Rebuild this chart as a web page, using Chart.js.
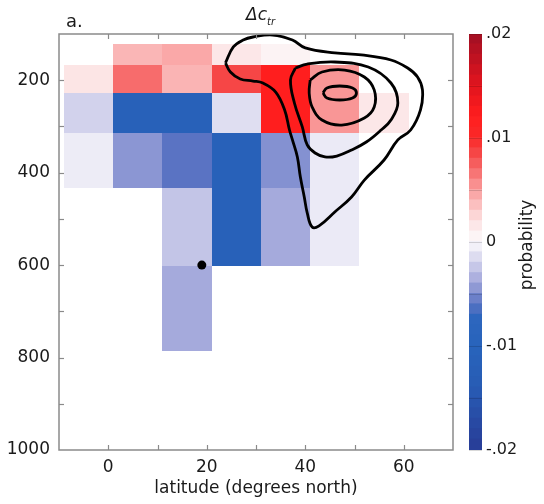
<!DOCTYPE html>
<html>
<head>
<meta charset="utf-8">
<script src="https://cdn.jsdelivr.net/npm/chart.js@4.4.1/dist/chart.umd.min.js"></script>
<style>
  html, body { margin: 0; padding: 0; background: #fff; }
  #wrap { position: relative; width: 544px; height: 504px; }
  #main { position: absolute; left: 0; top: 0; }
  #bar { position: absolute; left: 460px; top: 0; }
</style>
</head>
<body>
<div id="wrap">
  <canvas id="main" width="460" height="504"></canvas>
  <canvas id="bar" width="84" height="504"></canvas>
</div>
<script>
const FONT = "'DejaVu Sans', sans-serif";
const INK = "#1a1a1a";
const AXIS = "#8a8a8a";

/* grid cells: latitude and pressure edges, values row by row (top -> bottom) */
const latEdges = [-9, 1, 11, 21, 31, 41, 51, 61];
const presEdges = [122, 167, 228, 314, 433, 602, 786];
const cellRows = [
  [0, 0.0039, 0.0045, 0.0015, 0.0006, 0, 0],
  [0.0017, 0.0069, 0.004, 0.0085, 0.012, 0.0052, 0],
  [-0.002, -0.0115, -0.0115, -0.0014, 0.012, 0.0052, 0.0015],
  [-0.0007, -0.0046, -0.006, -0.0115, -0.0048, -0.0008, 0],
  [0, 0, -0.0026, -0.0115, -0.0038, -0.0008, 0],
  [0, 0, -0.0038, 0, 0, 0, 0]
];

/* contours as [lat, pressure] */
const contour1 = [[23.8,162.7],[25.4,128],[27.4,113],[29.4,106.5],[33.4,102.2],[37.4,113],[40,130],[46,141],
  [51.4,145.4],[57.4,156.3],[60.8,173.6],[62.8,193],[63.8,221],[63.4,264],[61.4,307.7],[58.8,329],[56,372.6],
  [52,416],[49.4,452.6],[46,485],[42.8,515],[41.4,517.6],[40.4,487],[39.8,452.6],[39,409],[38.4,366],
  [37.4,329],[36.8,307.7],[35.8,264],[34,225.5],[31.4,206],[29.4,201.7],[26.8,197.4],[24.8,182.2]];
const contour2 = [[38,173.6],[40.4,165],[46,160.6],[52.8,171.4],[57.4,206],[58.8,249.3],[57.4,286],[55.4,307.7],
  [52.4,333.7],[49.4,351],[46.4,364],[44,366],[42,357.5],[40.4,340],[39.4,301],[37.8,249.3],[37,199.5]];
const contour3 = [[41,199.5],[43.4,182.2],[48,178],[52,193],[54,221],[54,258],[52,281.7],[47.4,297],
  [43.4,286],[41.4,258],[40.8,227.6]];
const contour4 = [[43.6,227.6],[44.4,216.8],[47,212.5],[49.6,216.8],[50.4,227.6],[49.6,238.5],[47,242.8],[44.4,238.5]];
const dot = [[19, 600]];

const latTicks = [0, 20, 40, 60];
const presTicks = [200, 400, 600, 800, 1000];
const cbTicks = [-0.02, -0.01, 0, 0.01, 0.02];

/* diverging colour map, value -> rgb */
const cmap = [
  [-0.020, [40, 60, 150]],
  [-0.014, [40, 92, 180]],
  [-0.010, [40, 100, 188]],
  [-0.0075, [45, 102, 190]],
  [-0.006, [90, 115, 195]],
  [-0.004, [160, 165, 218]],
  [-0.002, [210, 210, 236]],
  [0, [252, 250, 252]],
  [0.002, [252, 225, 225]],
  [0.004, [250, 180, 180]],
  [0.006, [248, 130, 130]],
  [0.008, [245, 80, 80]],
  [0.010, [250, 40, 40]],
  [0.012, [255, 30, 30]],
  [0.015, [225, 20, 30]],
  [0.020, [160, 15, 35]]
];

function colorFor(v) {
  if (v <= cmap[0][0]) return `rgb(${cmap[0][1].join(",")})`;
  for (let i = 1; i < cmap.length; i++) {
    const [v1, c1] = cmap[i];
    if (v <= v1) {
      const [v0, c0] = cmap[i - 1];
      const t = (v - v0) / (v1 - v0);
      const c = c0.map((a, k) => Math.round(a + (c1[k] - a) * t));
      return `rgb(${c.join(",")})`;
    }
  }
  return `rgb(${cmap[cmap.length - 1][1].join(",")})`;
}

const toPts = (arr) => arr.map(([lat, p]) => ({ x: lat, y: p }));
const closed = (arr) => toPts([...arr, arr[0]]);

/* cells under the lines */
const cellPlugin = {
  id: "cells",
  beforeDatasetsDraw(chart) {
    const { ctx, chartArea: a, scales: { x, y } } = chart;
    ctx.save();
    ctx.beginPath();
    ctx.rect(a.left, a.top, a.width, a.height);
    ctx.clip();
    cellRows.forEach((row, r) => {
      row.forEach((v, c) => {
        if (!v) return;
        const x0 = Math.round(x.getPixelForValue(latEdges[c]));
        const x1 = Math.round(x.getPixelForValue(latEdges[c + 1]));
        const y0 = Math.round(y.getPixelForValue(presEdges[r]));
        const y1 = Math.round(y.getPixelForValue(presEdges[r + 1]));
        ctx.fillStyle = colorFor(v);
        ctx.fillRect(x0, y0, x1 - x0, y1 - y0);
      });
    });
    ctx.restore();
  }
};

/* box, inward ticks and panel titles */
const framePlugin = {
  id: "frame",
  afterDraw(chart) {
    const { ctx, chartArea: a, scales: { x, y } } = chart;
    const seg = (x0, y0, x1, y1) => { ctx.beginPath(); ctx.moveTo(x0, y0); ctx.lineTo(x1, y1); ctx.stroke(); };
    ctx.save();
    ctx.strokeStyle = AXIS;
    ctx.lineWidth = 1.5;
    ctx.strokeRect(a.left, a.top, a.width, a.height);
    ctx.lineWidth = 1.2;
    x.ticks.forEach(t => {
      if (t.value <= x.min || t.value >= x.max) return;
      const px = Math.round(x.getPixelForValue(t.value)) + 0.5;
      seg(px, a.bottom, px, a.bottom - 5);
      seg(px, a.top, px, a.top + 5);
    });
    y.ticks.forEach(t => {
      if (t.value <= y.min || t.value >= y.max) return;
      const py = Math.round(y.getPixelForValue(t.value)) + 0.5;
      seg(a.left, py, a.left + 5, py);
      seg(a.right, py, a.right - 5, py);
    });

    ctx.fillStyle = INK;
    ctx.textBaseline = "alphabetic";
    ctx.textAlign = "left";
    ctx.font = `18px ${FONT}`;
    ctx.fillText("a.", 66, 27);
    ctx.font = `italic 17px ${FONT}`;
    ctx.fillText("Δc", 246, 20);
    const w = ctx.measureText("Δc").width;
    ctx.font = `italic 10px ${FONT}`;
    ctx.fillText("tr", 246 + w, 25);
    ctx.restore();
  }
};

const lineStyle = { showLine: true, borderColor: "#000", borderWidth: 2.8, pointRadius: 0, tension: 0.4, fill: false };

new Chart(document.getElementById("main"), {
  type: "scatter",
  data: {
    datasets: [
      { ...lineStyle, data: closed(contour1) },
      { ...lineStyle, data: closed(contour2) },
      { ...lineStyle, data: closed(contour3) },
      { ...lineStyle, data: closed(contour4) },
      { data: toPts(dot), pointRadius: 4.5, backgroundColor: "#000", borderWidth: 0 }
    ]
  },
  options: {
    responsive: false,
    animation: false,
    layout: { padding: { top: 34, right: 3, left: 0, bottom: 0 } },
    plugins: { legend: { display: false }, tooltip: { enabled: false } },
    scales: {
      x: {
        type: "linear", min: -10, max: 70,
        grid: { display: false, drawTicks: false },
        border: { display: false },
        ticks: {
          stepSize: 10, autoSkip: false, maxRotation: 0, padding: 7, color: INK,
          font: { family: FONT, size: 17 },
          callback: v => latTicks.includes(v) ? String(v) : ""
        },
        title: {
          display: true, text: "latitude (degrees north)", color: INK,
          font: { family: FONT, size: 17 }, padding: { top: 0, bottom: 5 }
        },
        afterFit: s => { s.height = 54; }
      },
      y: {
        type: "linear", reverse: true, min: 100, max: 1000,
        grid: { display: false, drawTicks: false },
        border: { display: false },
        ticks: {
          stepSize: 100, autoSkip: false, padding: 9, color: INK,
          font: { family: FONT, size: 17 },
          callback: v => presTicks.includes(v) ? String(v) : ""
        },
        afterFit: s => { s.width = 59; }
      }
    }
  },
  plugins: [cellPlugin, framePlugin]
});

/* colour bar */
const cbBands = [];
for (let i = -20; i < 20; i++) cbBands.push([i / 1000, (i + 1) / 1000]);

const fmtCb = (v) => {
  const k = Math.round(v * 1000);
  if (k % 10 !== 0) return "";
  if (k === 0) return "0";
  return (k < 0 ? "-" : "") + "." + String(Math.abs(k / 10)).padStart(2, "0");
};

const cbPlugin = {
  id: "cbmarks",
  afterDatasetsDraw(chart) {
    const { ctx, chartArea: a, scales: { y } } = chart;
    ctx.save();
    ctx.strokeStyle = "rgba(0,0,0,0.15)";
    ctx.lineWidth = 1;
    y.ticks.forEach(t => {
      const py = Math.round(y.getPixelForValue(t.value)) + 0.5;
      ctx.beginPath(); ctx.moveTo(a.left, py); ctx.lineTo(a.right, py); ctx.stroke();
    });
    ctx.fillStyle = INK;
    ctx.font = `17px ${FONT}`;
    ctx.textAlign = "center";
    ctx.textBaseline = "middle";
    ctx.translate(68, 245);
    ctx.rotate(-Math.PI / 2);
    ctx.fillText("probability", 0, 0);
    ctx.restore();
  }
};

new Chart(document.getElementById("bar"), {
  type: "bar",
  data: {
    labels: [""],
    datasets: cbBands.map(b => ({
      data: [b], backgroundColor: colorFor((b[0] + b[1]) / 2), borderWidth: 0,
      inflateAmount: 1, grouped: false, barPercentage: 1, categoryPercentage: 1
    }))
  },
  options: {
    responsive: false,
    animation: false,
    layout: { padding: { top: 34, bottom: 54, left: 9, right: 0 } },
    plugins: { legend: { display: false }, tooltip: { enabled: false } },
    scales: {
      x: { display: false },
      y: {
        position: "right", min: cbTicks[0], max: cbTicks[cbTicks.length - 1],
        grid: { display: false, drawTicks: false },
        border: { display: false },
        ticks: {
          stepSize: 0.005, autoSkip: false, padding: 4, color: INK,
          font: { family: FONT, size: 16 },
          callback: fmtCb
        },
        afterFit: s => { s.width = 62; }
      }
    }
  },
  plugins: [cbPlugin]
});
</script>
</body>
</html>
